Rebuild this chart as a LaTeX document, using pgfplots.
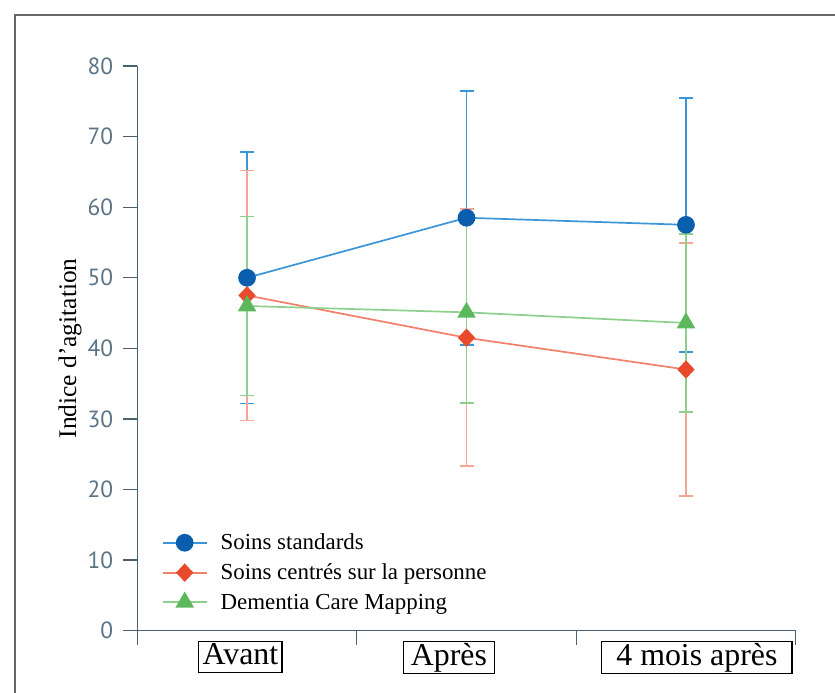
\documentclass[border=0pt]{standalone}
\usepackage{pgfplots}
\pgfplotsset{compat=1.18}
\usepackage{fontspec}
\setmainfont{Liberation Serif}
\newfontfamily\ticksans{PT Sans}
\definecolor{axcol}{HTML}{4A6270}
\definecolor{tickcol}{HTML}{5A7486}
\definecolor{bluemk}{HTML}{0B5DAE}
\definecolor{blueln}{HTML}{3A96D8}
\definecolor{redmk}{HTML}{EA4A2C}
\definecolor{redln}{HTML}{F3806A}
\definecolor{rederr}{HTML}{F5A594}
\definecolor{greenmk}{HTML}{5CB85C}
\definecolor{greenln}{HTML}{8DD08D}
\newcommand\xbox[2]{\fbox{\makebox[#1]{\rule[-0.2em]{0pt}{0.85em}#2}}}
\setlength\fboxrule{1.2bp}
\setlength\fboxsep{1bp}
\pgfplotstableread{
x y e
0 50.0 17.8
1 58.5 18.0
2 57.5 18.0
}\blue
\pgfplotstableread{
x y e
0 47.5 17.7
1 41.5 18.2
2 37.0 17.9
}\red
\pgfplotstableread{
x y e
0 46.0 12.7
1 45.1 12.8
2 43.6 12.6
}\green
\begin{document}
\begin{tikzpicture}
\useasboundingbox (0,0) rectangle (835bp,693bp);
\draw[line width=2bp, color=black!60] (15bp,-5bp) -- (15bp,678bp) -- (845bp,678bp);
\begin{axis}[
  at={(137.3bp,62.3bp)}, anchor=south west,
  scale only axis, width=658.4bp, height=564.7bp,
  xmin=-0.5, xmax=2.5, ymin=0, ymax=80,
  axis lines*=left,
  axis line style={color=axcol, line width=1.3bp},
  every tick/.style={color=axcol, line width=1.3bp},
  tick align=outside, major tick length=14bp,
  xtick={-0.5,0.5,1.5,2.5}, xticklabels={},
  extra x ticks={-0.03,0.92,2.05},
  extra x tick labels={\xbox{80bp}{Avant},\xbox{88bp}{Après},\xbox{187bp}{4 mois après}},
  extra x tick style={major tick length=0pt, tick label style={font=\fontsize{32}{32}\selectfont, color=black, inner sep=10bp}},
  ytick={0,10,...,80},
  yticklabel style={font=\fontsize{23.5}{23.5}\ticksans, color=tickcol, inner sep=10bp},
  /pgf/number format/assume math mode=true,
  ylabel={Indice d’agitation},
  ylabel style={font=\fontsize{25.5}{25.5}\selectfont, at={(axis description cs:-0.102,0.5)}, anchor=center},
  legend style={draw=none, fill=none, at={(axis description cs:0.037,0.175)}, anchor=north west,
    font=\fontsize{23}{23}\selectfont, inner sep=0pt, column sep=11bp, row sep=8.5bp},
  legend cell align=left,
  legend image code/.code={\draw[mark repeat=2,mark phase=2,#1] plot coordinates {(0bp,0bp) (22bp,0bp) (44bp,0bp)};},
  error bars/y dir=both, error bars/y explicit,
]
\addplot[color=blueln, line width=1.7bp, mark=*, mark size=8bp, mark options={fill=bluemk, draw=bluemk},
  error bars/error bar style={color=blueln, line width=1.7bp},
  error bars/error mark options={rotate=90, mark size=7bp, color=blueln, line width=1.7bp}]
  table[x=x, y=y, y error=e]{\blue};
\addlegendentry{Soins standards}
\addplot[color=redln, line width=1.7bp, mark=diamond*, mark size=8bp, mark options={fill=redmk, draw=redmk, xscale=1.25},
  error bars/error bar style={color=rederr, line width=1.7bp},
  error bars/error mark options={rotate=90, mark size=7bp, color=rederr, line width=1.7bp}]
  table[x=x, y=y, y error=e]{\red};
\addlegendentry{Soins centrés sur la personne}
\addplot[color=greenln, line width=1.7bp, mark=triangle*, mark size=9bp, mark options={fill=greenmk, draw=greenmk},
  error bars/error bar style={color=greenln, line width=1.7bp},
  error bars/error mark options={rotate=90, mark size=7bp, color=greenln, line width=1.7bp}]
  table[x=x, y=y, y error=e]{\green};
\addlegendentry{Dementia Care Mapping}
\end{axis}
\end{tikzpicture}
\end{document}
